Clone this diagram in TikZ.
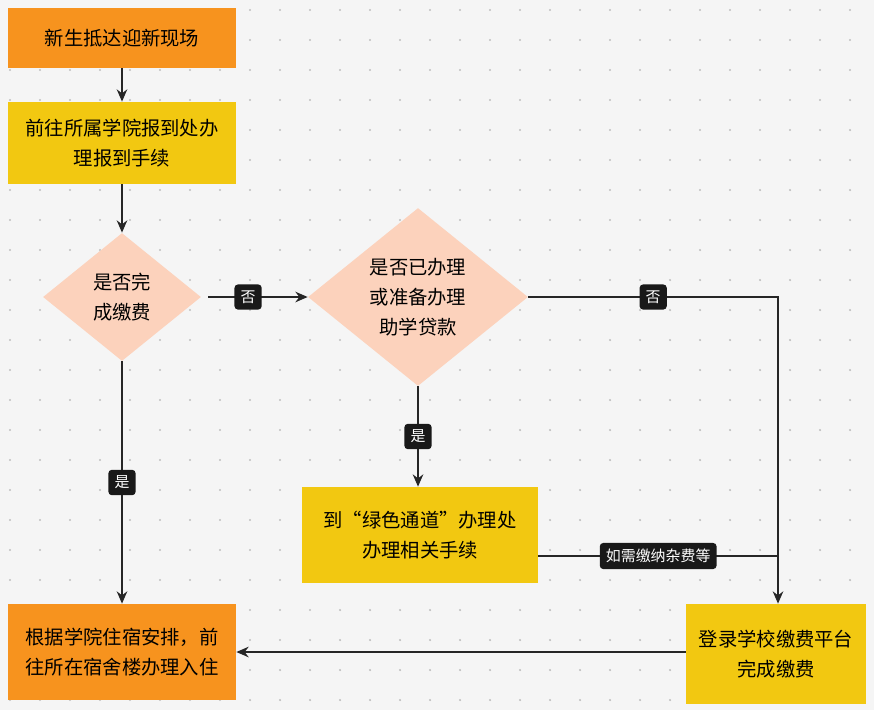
\documentclass[tikz,border=0pt]{standalone}
\usepackage{fontspec}
\setmainfont{Noto Sans CJK SC}
\usetikzlibrary{shapes.geometric,arrows.meta}
\definecolor{org}{HTML}{F7931E}
\definecolor{yel}{HTML}{F2C811}
\definecolor{pch}{HTML}{FCD2BC}
\definecolor{bg}{HTML}{F5F5F5}
\begin{document}
\begin{tikzpicture}[x=0.02cm,y=-0.02cm,
 box/.style={rectangle,minimum width=#1*0.02cm,align=center,inner sep=0pt,font=\fontsize{11}{17}\selectfont},
 dia/.style={diamond,fill=pch,inner sep=0pt,align=center,font=\fontsize{11}{17}\selectfont},
 lab/.style={fill=black!90,text=white,rounded corners=2pt,font=\fontsize{8.5}{10}\selectfont,inner sep=3.5pt},
 ar/.style={-{Stealth[length=7pt,width=6pt]},line width=1pt,draw=black!85},
 ln/.style={line width=1pt,draw=black!85}]
\useasboundingbox (0,0) rectangle (874,710);
\fill[bg] (0,0) rectangle (874,710);
\foreach \i in {0,...,29}{\foreach \j in {0,...,23}{\fill[black!25] (\i*30+10,\j*30+10) circle (0.7pt);}}
\node[box=228,fill=org,minimum height=1.2cm] (b1) at (122,38) {新生抵达迎新现场};
\node[box=228,fill=yel,minimum height=1.64cm] (b2) at (122,143) {前往所属学院报到处办\\理报到手续};
\node[dia,minimum width=3.16cm,minimum height=2.56cm] (d1) at (122,297) {是否完\\成缴费};
\node[dia,minimum width=4.4cm,minimum height=3.56cm] (d2) at (418,297) {是否已办理\\或准备办理\\助学贷款};
\node[box=236,fill=yel,minimum height=1.92cm] (b3) at (420,535) {到“绿色通道”办理处\\办理相关手续};
\node[box=228,fill=org,minimum height=1.92cm] (b4) at (122,652) {根据学院住宿安排，前\\往所在宿舍楼办理入住};
\node[box=180,fill=yel,minimum height=2cm] (b5) at (776,654) {登录学校缴费平台\\完成缴费};
\coordinate (c1) at (778,297);
\coordinate (c2) at (778,556);
\draw[ar] (b1) -- (b2);
\draw[ar] (b2) -- (d1);
\draw[ar] ([xshift=4pt]d1.east) -- (d2.west) node[lab,pos=0.4]{否};
\draw[ar] (d2.south) -- (d2.south|-b3.north) node[lab,midway]{是};
\draw[ar] (d1.south) -- (b4.north) node[lab,midway]{是};
\draw[ar] (d2.east) -- (c1) node[lab,midway]{否} -- (b5.north-|c1);
\draw[ln] (b3.east|-c2) -- (c2) node[lab,midway]{如需缴纳杂费等};
\draw[ar] (b5.west|-b4.east) -- (b4.east);
\end{tikzpicture}
\end{document}
